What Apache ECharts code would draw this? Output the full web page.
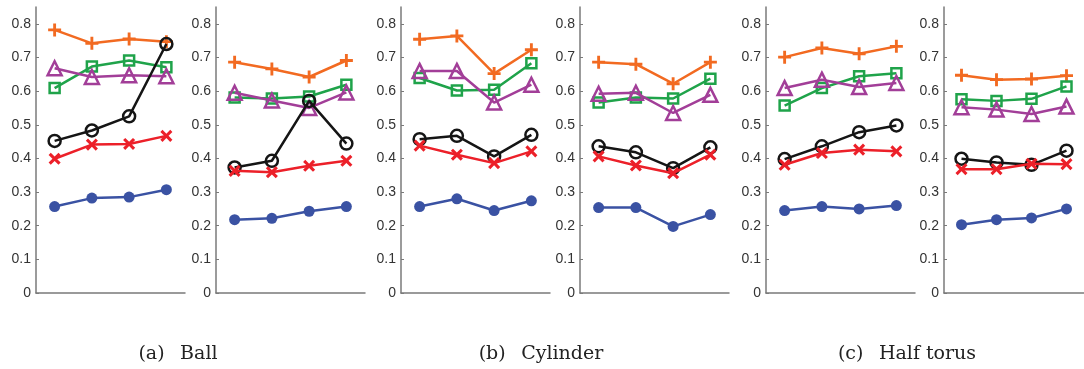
<!DOCTYPE html>
<html>
<head>
<meta charset="utf-8">
<script src="https://cdn.jsdelivr.net/npm/echarts@6/dist/echarts.min.js"></script>
<style>
html,body{margin:0;padding:0;background:#fff;}
#c{width:1084px;height:369px;}
</style>
</head>
<body>
<div id="c"></div>
<script>
// categories (4 x positions per panel)
var categories = ['1', '2', '3', '4'];
var yTicks = [0, 0.1, 0.2, 0.3, 0.4, 0.5, 0.6, 0.7, 0.8];
var captions = ['(a)\u2002 Ball', '(b)\u2002 Cylinder', '(c)\u2002 Half torus'];

// series values per panel: [orange+, green square, purple triangle, black circle, red x, blue dot]
var panel1Orange = [0.782, 0.742, 0.755, 0.747];
var panel1Green  = [0.609, 0.673, 0.691, 0.671];
var panel1Purple = [0.668, 0.642, 0.647, 0.644];
var panel1Black  = [0.452, 0.483, 0.525, 0.740];
var panel1Red    = [0.399, 0.441, 0.443, 0.467];
var panel1Blue   = [0.257, 0.282, 0.285, 0.307];

var panel2Orange = [0.686, 0.666, 0.642, 0.691];
var panel2Green  = [0.581, 0.578, 0.584, 0.619];
var panel2Purple = [0.595, 0.572, 0.550, 0.596];
var panel2Black  = [0.373, 0.393, 0.571, 0.444];
var panel2Red    = [0.363, 0.359, 0.378, 0.393];
var panel2Blue   = [0.218, 0.222, 0.243, 0.257];

var panel3Orange = [0.754, 0.764, 0.652, 0.723];
var panel3Green  = [0.639, 0.602, 0.604, 0.683];
var panel3Purple = [0.660, 0.660, 0.566, 0.619];
var panel3Black  = [0.457, 0.467, 0.406, 0.470];
var panel3Red    = [0.438, 0.411, 0.386, 0.421];
var panel3Blue   = [0.257, 0.280, 0.245, 0.274];

var panel4Orange = [0.686, 0.680, 0.622, 0.686];
var panel4Green  = [0.566, 0.581, 0.578, 0.637];
var panel4Purple = [0.592, 0.595, 0.535, 0.589];
var panel4Black  = [0.436, 0.418, 0.371, 0.433];
var panel4Red    = [0.406, 0.379, 0.356, 0.411];
var panel4Blue   = [0.254, 0.254, 0.198, 0.233];

var panel5Orange = [0.701, 0.728, 0.711, 0.733];
var panel5Green  = [0.557, 0.609, 0.644, 0.653];
var panel5Purple = [0.609, 0.634, 0.612, 0.624];
var panel5Black  = [0.398, 0.436, 0.478, 0.498];
var panel5Red    = [0.381, 0.416, 0.426, 0.421];
var panel5Blue   = [0.245, 0.257, 0.250, 0.260];

var panel6Orange = [0.647, 0.634, 0.636, 0.646];
var panel6Green  = [0.576, 0.571, 0.577, 0.614];
var panel6Purple = [0.552, 0.545, 0.532, 0.554];
var panel6Black  = [0.399, 0.388, 0.381, 0.423];
var panel6Red    = [0.368, 0.368, 0.384, 0.383];
var panel6Blue   = [0.203, 0.218, 0.223, 0.250];

var panels = [
  [panel1Orange, panel1Green, panel1Purple, panel1Black, panel1Red, panel1Blue],
  [panel2Orange, panel2Green, panel2Purple, panel2Black, panel2Red, panel2Blue],
  [panel3Orange, panel3Green, panel3Purple, panel3Black, panel3Red, panel3Blue],
  [panel4Orange, panel4Green, panel4Purple, panel4Black, panel4Red, panel4Blue],
  [panel5Orange, panel5Green, panel5Purple, panel5Black, panel5Red, panel5Blue],
  [panel6Orange, panel6Green, panel6Purple, panel6Black, panel6Red, panel6Blue]
];

var plusPath = 'path://M3.9,0H6.1V3.9H10V6.1H6.1V10H3.9V6.1H0V3.9H3.9Z';
var styles = [
  {color: '#F26A21', symbol: plusPath, size: 13, rotate: 0, hollow: false},
  {color: '#1FA34A', symbol: 'rect', size: 10, rotate: 0, hollow: true},
  {color: '#A23E98', symbol: 'triangle', size: 14, rotate: 0, hollow: true},
  {color: '#151515', symbol: 'circle', size: 12, rotate: 0, hollow: true},
  {color: '#EC2029', symbol: plusPath, size: 14, rotate: 45, hollow: false},
  {color: '#3A52A3', symbol: 'circle', size: 11, rotate: 0, hollow: false}
];

var gridLefts = [36, 216, 401, 580, 766, 944];
var grids = [], xAxes = [], yAxes = [], series = [];
gridLefts.forEach(function (l, i) {
  grids.push({left: l, top: 7, width: 149, height: 286, containLabel: false});
  xAxes.push({
    type: 'category', gridIndex: i, data: categories, boundaryGap: true,
    axisLine: {lineStyle: {color: '#7a7a7a', width: 1.5}},
    axisTick: {show: false}, axisLabel: {show: false}, splitLine: {show: false}
  });
  yAxes.push({
    type: 'value', gridIndex: i, min: 0, max: 0.85, interval: 0.1,
    axisLine: {show: true, lineStyle: {color: '#7a7a7a', width: 1.5}},
    axisTick: {show: true, inside: true, length: 3, lineStyle: {color: '#7a7a7a'}},
    splitLine: {show: false},
    axisLabel: {
      color: '#333', fontSize: 14, fontFamily: 'Liberation Sans, Arial, sans-serif', margin: 5,
      showMaxLabel: false,
      formatter: function (v) {
        for (var k = 0; k < yTicks.length; k++) {
          if (Math.abs(yTicks[k] - v) < 1e-6) return String(yTicks[k]);
        }
        return '';
      }
    }
  });
  panels[i].forEach(function (vals, j) {
    var s = styles[j];
    series.push({
      type: 'line', xAxisIndex: i, yAxisIndex: i, data: vals,
      symbol: s.symbol, symbolSize: s.size, symbolRotate: s.rotate,
      showAllSymbol: true, animation: false, silent: true,
      lineStyle: {color: s.color, width: 2.5},
      itemStyle: s.hollow
        ? {color: 'rgba(255,255,255,0)', borderColor: s.color, borderWidth: 2.5}
        : {color: s.color, borderWidth: 0},
      z: 2 + j
    });
  });
});

var captionCenters = [178, 541, 907];
var graphics = captions.map(function (t, i) {
  return {
    type: 'text', left: captionCenters[i], top: 354,
    style: {
      text: t, x: 0, y: 0, textAlign: 'center', textVerticalAlign: 'middle',
      font: '19px "DejaVu Serif", serif', fill: '#222'
    }
  };
});

var chart = echarts.init(document.getElementById('c'), null, {renderer: 'canvas'});
chart.setOption({
  animation: false,
  grid: grids, xAxis: xAxes, yAxis: yAxes, series: series,
  graphic: {elements: captions.map(function (t, i) {
    return {
      type: 'text', x: captionCenters[i], y: 354,
      style: {
        text: t, textAlign: 'center', textVerticalAlign: 'middle',
        font: '19px "DejaVu Serif", serif', fill: '#222'
      }
    };
  })}
});
</script>
</body>
</html>
